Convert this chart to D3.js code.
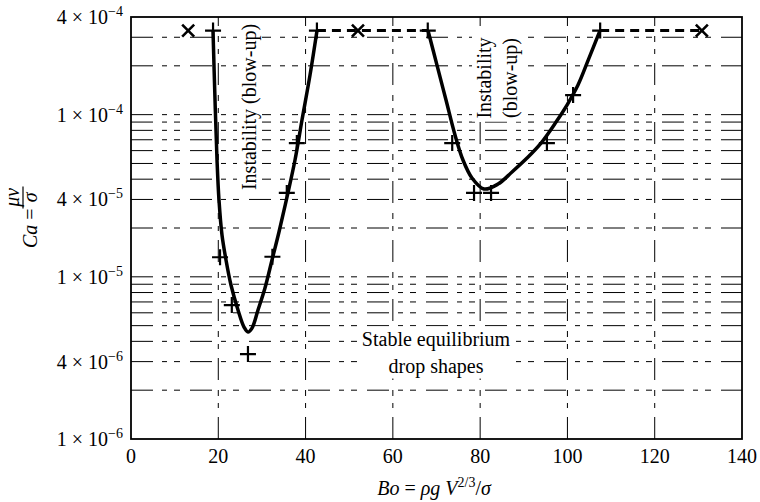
<!DOCTYPE html>
<html><head><meta charset="utf-8">
<script src="https://cdn.jsdelivr.net/npm/d3@7"></script>
<style>body{margin:0;background:#fff}svg{display:block}</style>
</head><body><svg id="c" width="760" height="502"></svg>
<script>
// ---------- data ----------
const xTicks = [0, 20, 40, 60, 80, 100, 120, 140];
const yTickValues = [1e-6, 3e-6, 1e-5, 3e-5, 1e-4, 4e-4];
const yTickMant = ["1", "4", "1", "4", "1", "4"];
const yTickExp = ["\u22126", "\u22126", "\u22125", "\u22125", "\u22124", "\u22124"];

// fitted stability boundary, left "V"
const leftCurveX = [18.79, 19.25, 19.71, 20.16, 20.85, 21.77, 22.91, 24.52, 25.89, 26.81, 27.73, 29.10, 30.70, 32.31, 33.91, 35.74, 37.58, 39.18, 41.02, 42.62];
const leftCurveY = [3.3e-4, 1.23e-4, 5.25e-5, 2.98e-5, 1.81e-5, 1.27e-5, 8.9e-6, 6.24e-6, 4.90e-6, 4.57e-6, 4.83e-6, 6.24e-6, 8.53e-6, 1.27e-5, 1.89e-5, 3.10e-5, 5.25e-5, 9.26e-5, 1.754e-4, 3.3e-4];
// fitted stability boundary, right "U"
const rightCurveX = [68.05, 70.11, 72.18, 74.24, 76.07, 78.13, 80.88, 84.09, 87.30, 90.74, 93.95, 97.39, 99.90, 102.42, 104.94, 107.46];
const rightCurveY = [3.3e-4, 2.02e-4, 1.23e-4, 7.49e-5, 5.25e-5, 4.07e-5, 3.48e-5, 3.73e-5, 4.43e-5, 5.40e-5, 6.68e-5, 9.0e-5, 1.146e-4, 1.522e-4, 2.23e-4, 3.3e-4];
// measured points (+)
const plusX = [18.8, 20.4, 23.1, 26.8, 32.4, 35.7, 38.0, 42.6, 68.0, 73.6, 78.6, 82.5, 95.3, 101.3, 107.5];
const plusY = [3.3e-4, 1.32e-5, 6.7e-6, 3.34e-6, 1.33e-5, 3.29e-5, 6.68e-5, 3.3e-4, 3.3e-4, 6.68e-5, 3.29e-5, 3.29e-5, 6.68e-5, 1.32e-4, 3.3e-4];
// measured points (x)
const crossX = [13.1, 52.0, 130.8];
const crossY = [3.3e-4, 3.3e-4, 3.3e-4];
// dashed upper limit segments
const dashStartX = [42.6, 107.5];
const dashEndX = [68.0, 130.8];
const dashLevel = [3.3e-4, 3.3e-4];

// ---------- drawing ----------
const FONT = "'Liberation Serif','Times New Roman',serif";
const svg = d3.select("#c");
const L = 131, R = 742, T = 17, B = 439;
const x = d3.scaleLinear().domain([0, 140]).range([L, R]);
const y = d3.scaleLog().domain([1e-6, 4e-4]).range([B, T]);
const DASH = "22,9,5,7,6,10";

const grid = svg.append("g").attr("stroke", "#000").attr("stroke-width", 1).attr("fill", "none").attr("stroke-dasharray", DASH);
const yMinor = y.ticks().filter(v => v > 1.0001e-6 && v < 3.9e-4);
grid.selectAll("line.h").data(yMinor).join("line").attr("class", "h")
  .attr("x1", L).attr("x2", R).attr("y1", d => y(d)).attr("y2", d => y(d));
grid.selectAll("line.v").data(xTicks.filter(d => d > 0 && d < 140)).join("line").attr("class", "v")
  .attr("x1", d => x(d)).attr("x2", d => x(d)).attr("y1", B).attr("y2", T);

// annotations (white background)
const ann = svg.append("g");
function boxedText(g, lines, cx, cy, rot, lh) {
  const grp = g.append("g").attr("transform", `translate(${cx},${cy}) rotate(${rot})`);
  const rect = grp.append("rect").attr("fill", "#fff");
  const t = grp.append("text").attr("font-family", FONT).attr("font-size", 20).attr("text-anchor", "middle");
  lines.forEach((s, i) => {
    t.append("tspan").attr("x", 0).attr("y", (i - (lines.length - 1) / 2) * lh + 6).text(s);
  });
  const bb = t.node().getBBox();
  rect.attr("x", bb.x - 3).attr("y", bb.y - 1).attr("width", bb.width + 6).attr("height", bb.height + 2);
}
boxedText(ann, ["Instability (blow-up)"], 250, 107, -90, 22);
boxedText(ann, ["Instability", "(blow-up)"], 498, 78, -90, 26);
boxedText(ann, ["Stable equilibrium", "drop shapes"], 436, 353, 0, 27);

// frame
svg.append("rect").attr("x", L).attr("y", T).attr("width", R - L).attr("height", B - T)
  .attr("fill", "none").attr("stroke", "#000").attr("stroke-width", 1.8);

// curves
const line = d3.line().x(d => x(d[0])).y(d => y(d[1])).curve(d3.curveCatmullRom.alpha(0.5));
svg.append("path").datum(d3.zip(leftCurveX, leftCurveY)).attr("d", line)
  .attr("fill", "none").attr("stroke", "#000").attr("stroke-width", 3.5).attr("stroke-linejoin", "round");
svg.append("path").datum(d3.zip(rightCurveX, rightCurveY)).attr("d", line)
  .attr("fill", "none").attr("stroke", "#000").attr("stroke-width", 3.5).attr("stroke-linejoin", "round");

// dashed segments
svg.selectAll("line.dl").data(d3.range(dashStartX.length)).join("line").attr("class", "dl")
  .attr("x1", i => x(dashStartX[i])).attr("x2", i => x(dashEndX[i]))
  .attr("y1", i => y(dashLevel[i])).attr("y2", i => y(dashLevel[i]))
  .attr("stroke", "#000").attr("stroke-width", 3).attr("stroke-dasharray", "9,6");

// markers
const plusPath = "M-8,0H8M0,-8V8";
svg.selectAll("path.plus").data(d3.zip(plusX, plusY)).join("path").attr("class", "plus")
  .attr("d", plusPath).attr("transform", d => `translate(${x(d[0])},${y(d[1])})`)
  .attr("stroke", "#000").attr("stroke-width", 2.2).attr("fill", "none");
const crossPath = "M-6,-6L6,6M-6,6L6,-6";
svg.selectAll("path.cross").data(d3.zip(crossX, crossY)).join("path").attr("class", "cross")
  .attr("d", crossPath).attr("transform", d => `translate(${x(d[0])},${y(d[1])})`)
  .attr("stroke", "#000").attr("stroke-width", 2.6).attr("fill", "none");

// x tick labels
svg.append("g").selectAll("text").data(xTicks).join("text")
  .attr("x", d => x(d)).attr("y", 463).attr("text-anchor", "middle")
  .attr("font-family", FONT).attr("font-size", 20).text(d => d);

// y tick labels
const yl = svg.append("g").selectAll("text").data(d3.range(yTickValues.length)).join("text")
  .attr("x", 123).attr("y", i => y(yTickValues[i]) + 7).attr("text-anchor", "end")
  .attr("font-family", FONT).attr("font-size", 20);
yl.append("tspan").text(i => yTickMant[i] + " \u00d7 10");
yl.append("tspan").attr("font-size", 14).attr("dy", -8).text(i => yTickExp[i]);

// x title
const xt = svg.append("text").attr("x", 434).attr("y", 495).attr("text-anchor", "middle")
  .attr("font-family", FONT).attr("font-size", 20);
xt.append("tspan").attr("font-style", "italic").text("Bo");
xt.append("tspan").text(" = ");
xt.append("tspan").attr("font-style", "italic").text("\u03c1g V");
xt.append("tspan").attr("font-size", 14).attr("dy", -8).text("2/3");
xt.append("tspan").attr("dy", 8).text("/");
xt.append("tspan").attr("font-style", "italic").text("\u03c3");

// y title
const yt = svg.append("g").attr("transform", "translate(37,248) rotate(-90)");
const ca = yt.append("text").attr("x", 0).attr("y", 0).attr("font-family", FONT).attr("font-size", 20);
ca.append("tspan").attr("font-style", "italic").text("Ca");
ca.append("tspan").text(" = ");
const caLen = ca.node().getComputedTextLength();
const fx0 = caLen, fx1 = caLen + 22;
yt.append("line").attr("x1", fx0).attr("x2", fx1).attr("y1", -14).attr("y2", -14).attr("stroke", "#000").attr("stroke-width", 1.2);
yt.append("text").attr("x", (fx0 + fx1) / 2).attr("y", -18).attr("text-anchor", "middle")
  .attr("font-family", FONT).attr("font-size", 20).attr("font-style", "italic").text("\u03bcv");
yt.append("text").attr("x", (fx0 + fx1) / 2).attr("y", 0).attr("text-anchor", "middle")
  .attr("font-family", FONT).attr("font-size", 20).attr("font-style", "italic").text("\u03c3");
</script>
</body></html>
